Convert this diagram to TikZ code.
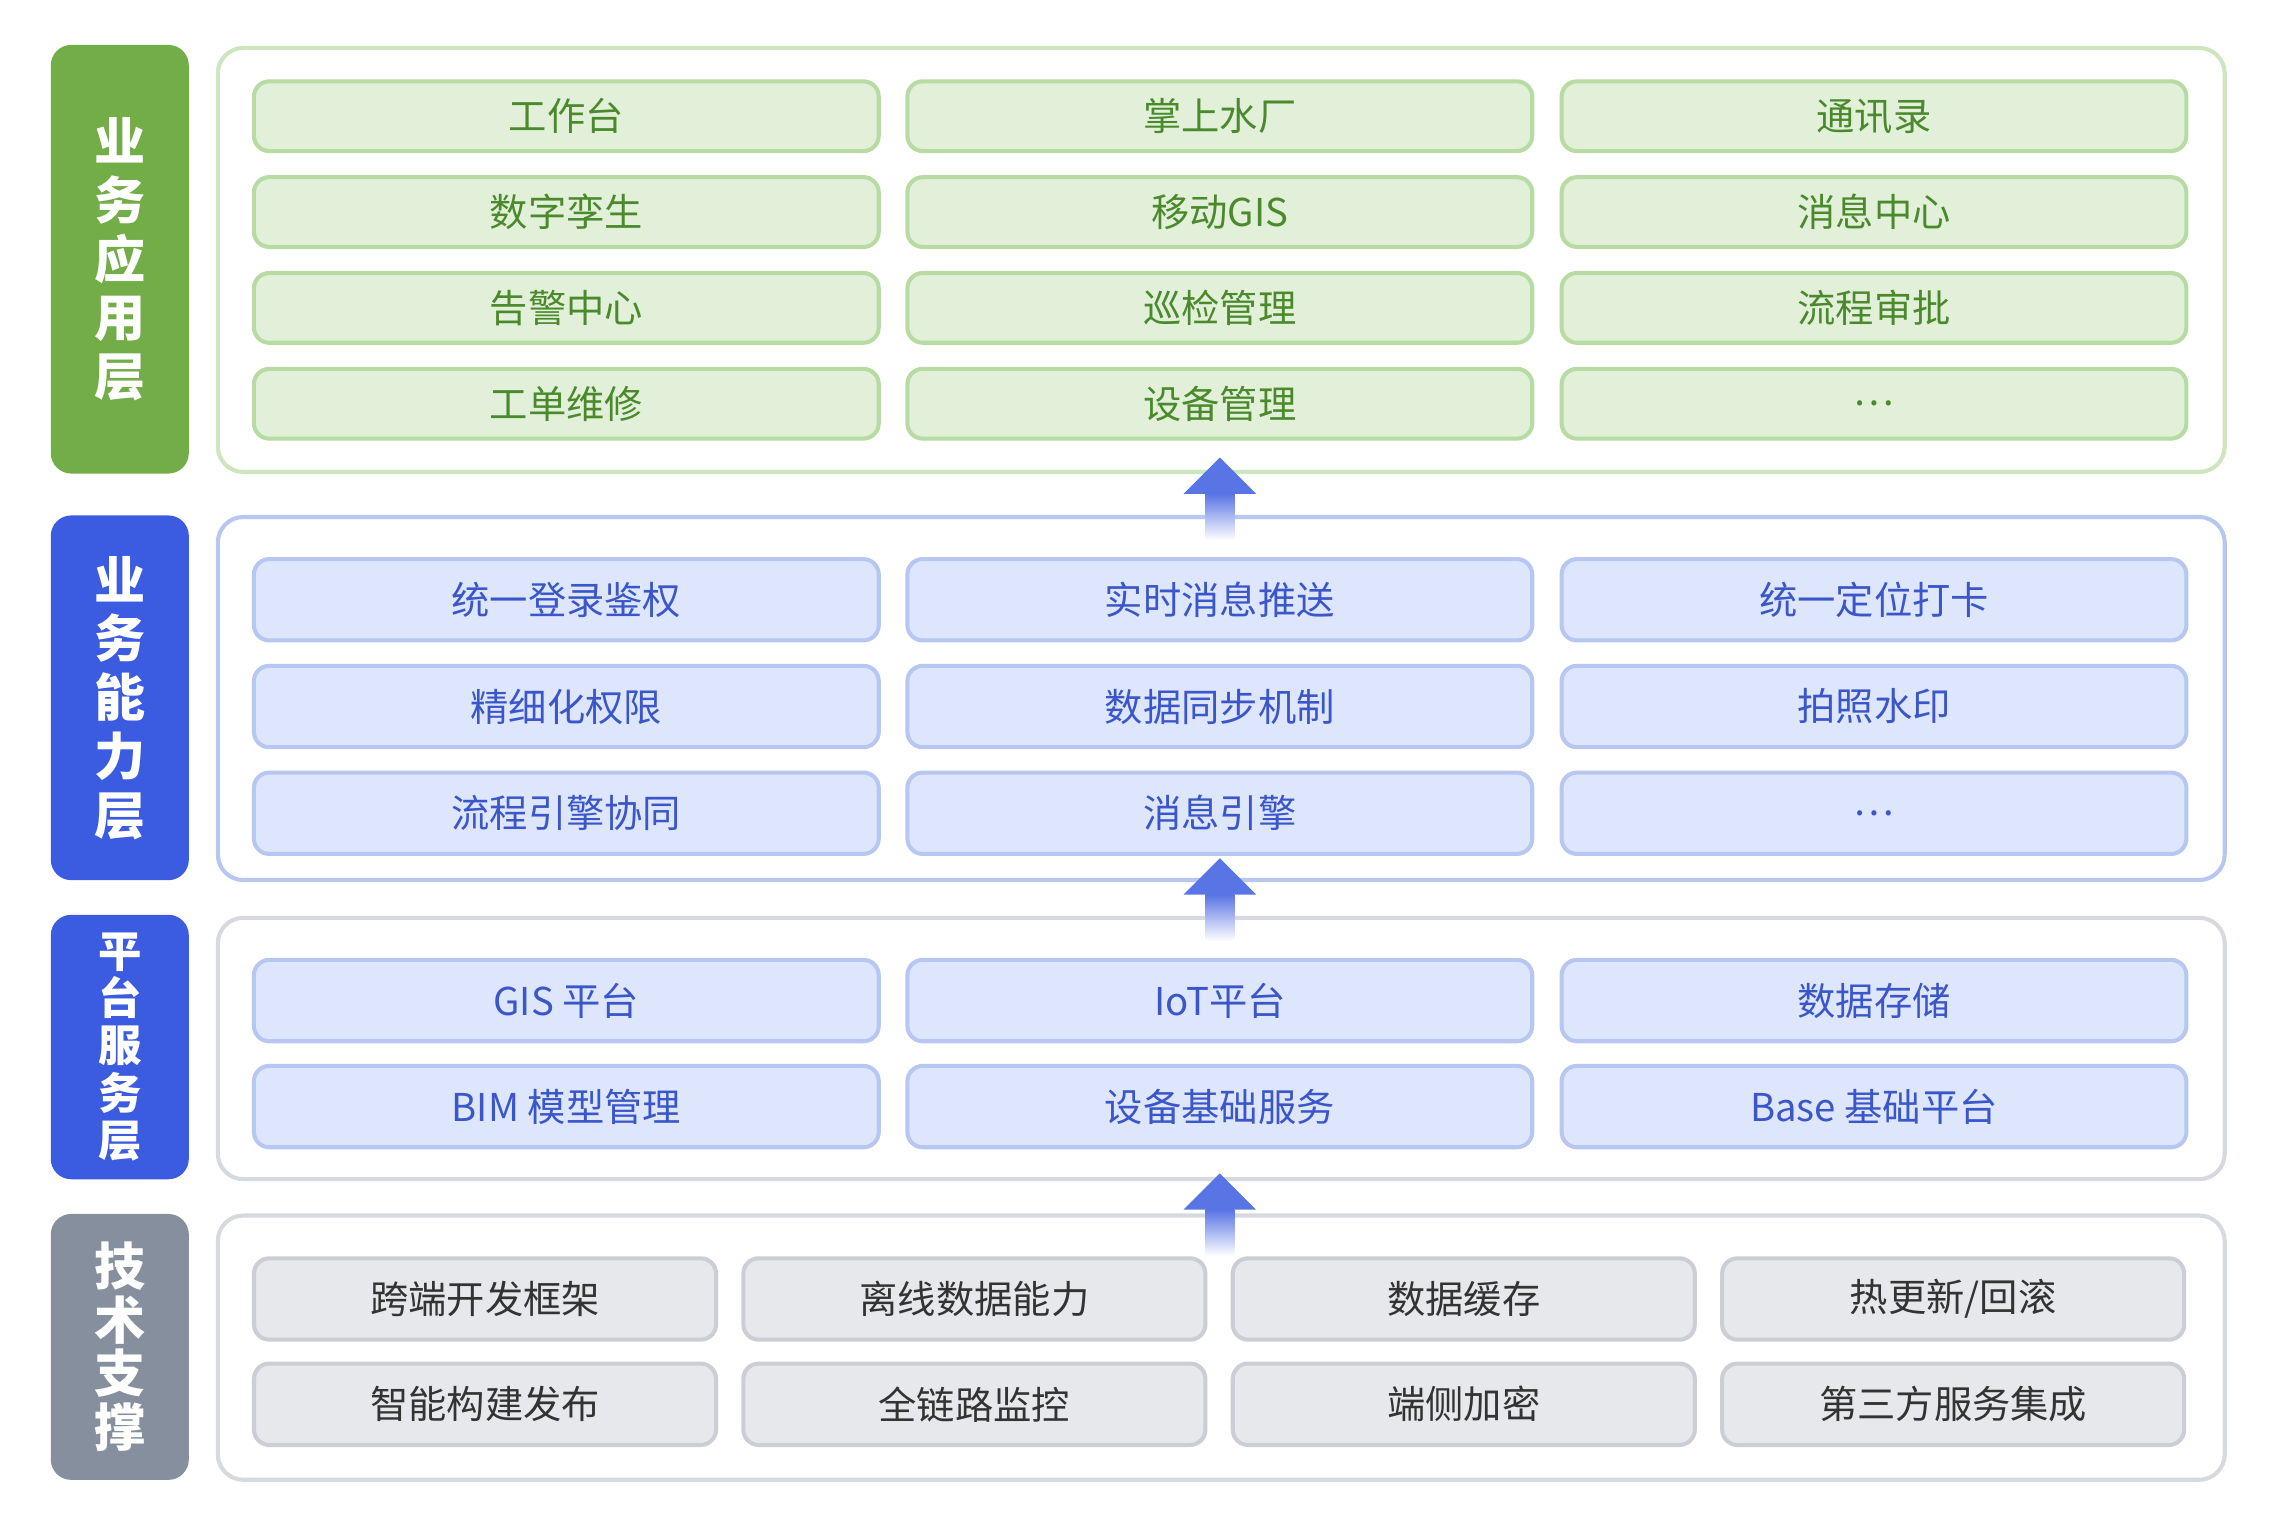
\documentclass[tikz,border=0pt]{standalone}
\usepackage{fontspec}
\setmainfont{Noto Sans CJK SC}
\usetikzlibrary{positioning}
\definecolor{appgreen}{HTML}{72AD48}
\definecolor{appfill}{HTML}{E2F0D9}
\definecolor{appline}{HTML}{B7DBA3}
\definecolor{apptext}{HTML}{4A8A2C}
\definecolor{capblue}{HTML}{3B5BE0}
\definecolor{capfill}{HTML}{DDE6FC}
\definecolor{capline}{HTML}{B8C7F2}
\definecolor{captext}{HTML}{3A56C9}
\definecolor{techgray}{HTML}{868F9D}
\definecolor{techfill}{HTML}{E6E8EC}
\definecolor{techline}{HTML}{CBCED4}
\definecolor{paneline}{HTML}{D6D9DE}
\tikzset{
  lay/.style={rounded corners=4pt, minimum width=0.95cm, text=white, align=center,
    font=\fontsize{10}{11.5}\selectfont\bfseries},
  panel/.style={draw, line width=0.8pt, rounded corners=5pt, fill=white},
  app/.style={draw=appline, fill=appfill, text=apptext, line width=0.8pt, rounded corners=3pt,
    minimum width=4.3cm, minimum height=0.48cm, font=\fontsize{7.5}{9}\selectfont},
  abil/.style={app, draw=capline, fill=capfill, text=captext, minimum height=0.56cm},
  tech/.style={app, draw=techline, fill=techfill, text=black!80, minimum width=3.18cm, minimum height=0.56cm},
}
\newcommand{\uparr}[2]{%
  \shade[top color=capblue!85, bottom color=white] (#1-10,#2) rectangle (#1+10,#2+32);
  \fill[capblue!85] (#1-25,#2) -- (#1,#2-25) -- (#1+25,#2) -- cycle;}
\begin{document}
\begin{tikzpicture}[x=0.01cm, y=-0.01cm]
\useasboundingbox (0,0) rectangle (1568,1050);
% panels
\draw[panel, draw=appline!70] (150,33) rectangle (1532,325);
\draw[panel, draw=capline] (150,356) rectangle (1532,606);
\draw[panel, draw=paneline] (150,632) rectangle (1532,812);
\draw[panel, draw=paneline] (150,837) rectangle (1532,1019);
% layer labels
\node[lay, fill=appgreen, minimum height=2.95cm] (la) at (82.5,178.5) {业\\务\\应\\用\\层};
\node[lay, fill=capblue, minimum height=2.51cm] (lc) at (82.5,480.5) {业\\务\\能\\力\\层};
\node[lay, fill=capblue, minimum height=1.82cm, font=\fontsize{8.5}{9.3}\selectfont\bfseries] (lp) at (82.5,721) {平\\台\\服\\务\\层};
\node[lay, fill=techgray, minimum height=1.83cm, font=\fontsize{10}{10.5}\selectfont\bfseries] (lt) at (82.5,927.5) {技\\术\\支\\撑};
% app layer
\foreach \t [count=\i from 0] in {工作台,数字孪生,告警中心,工单维修}
  \node[app] (a1\i) at (390,{80+66*\i}) {\t};
\foreach \t [count=\i from 0] in {掌上水厂,移动GIS,巡检管理,设备管理}
  \node[app] (a2\i) at (840,{80+66*\i}) {\t};
\foreach \t [count=\i from 0] in {通讯录,消息中心,流程审批,{\ldots}}
  \node[app] (a3\i) at (1290.5,{80+66*\i}) {\t};
% capability layer
\foreach \t [count=\i from 0] in {统一登录鉴权,精细化权限,流程引擎协同}
  \node[abil] (c1\i) at (390,{413+73.5*\i}) {\t};
\foreach \t [count=\i from 0] in {实时消息推送,数据同步机制,消息引擎}
  \node[abil] (c2\i) at (840,{413+73.5*\i}) {\t};
\foreach \t [count=\i from 0] in {统一定位打卡,拍照水印,{\ldots}}
  \node[abil] (c3\i) at (1290.5,{413+73.5*\i}) {\t};
% platform layer
\node[abil] (p10) at (390,689) {GIS 平台};
\node[abil] (p20) at (840,689) {IoT平台};
\node[abil] (p30) at (1290.5,689) {数据存储};
\node[abil] (p11) at (390,762) {BIM 模型管理};
\node[abil] (p21) at (840,762) {设备基础服务};
\node[abil] (p31) at (1290.5,762) {Base 基础平台};
% tech layer
\foreach \t/\s [count=\i from 0] in {跨端开发框架/智能构建发布,离线数据能力/全链路监控,数据缓存/端侧加密,{热更新/回滚}/第三方服务集成}{
  \node[tech] (t\i a) at ({334+337*\i},894.5) {\t};
  \node[tech] (t\i b) at ({334+337*\i},967) {\s};
}
% arrows
\uparr{840}{340}
\uparr{840}{616}
\uparr{840}{833}
\end{tikzpicture}
\end{document}
